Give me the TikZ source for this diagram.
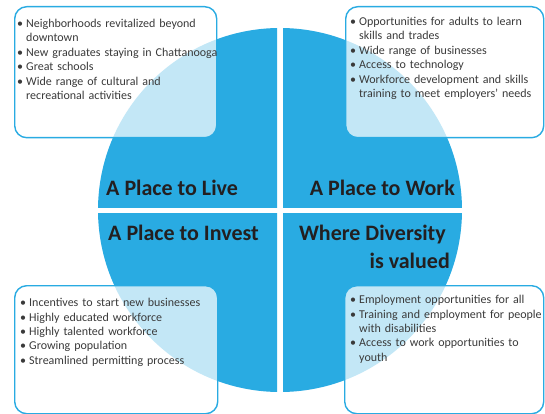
\documentclass[tikz,border=0pt]{standalone}
\usepackage{fontspec}
\setmainfont{Carlito}
\definecolor{cblue}{HTML}{29ABE2}
\definecolor{ctext}{HTML}{3A3A3A}
\definecolor{ctitle}{HTML}{231F20}
\tikzset{
  quad/.style={fill=cblue},
  box/.style={draw=cblue, line width=1.4pt, rounded corners=12pt, fill=white, fill opacity=0.72, anchor=north west, inner sep=0pt},
  list/.style={anchor=north west, text=ctext, font=\fontsize{12}{14.4}\selectfont, align=left, inner sep=0pt, text width=240pt},
  title/.style={text=ctitle, font=\fontsize{22}{26}\selectfont\bfseries, inner sep=0pt},
}
\newcommand{\bul}[1]{\par\noindent\hangindent=9pt\hangafter=1\makebox[9pt][l]{\textbullet}#1}
\begin{document}
\begin{tikzpicture}[x=1pt,y=-1pt]
\useasboundingbox (0,0) rectangle (545,414);
% quadrants
\begin{scope}\clip (0,0) rectangle (277,207); \fill[quad] (280,210) circle[radius=182pt]; \end{scope}
\begin{scope}\clip (283,0) rectangle (545,207); \fill[quad] (280,210) circle[radius=182pt]; \end{scope}
\begin{scope}\clip (0,213) rectangle (277,414); \fill[quad] (280,210) circle[radius=182pt]; \end{scope}
\begin{scope}\clip (283,213) rectangle (545,414); \fill[quad] (280,210) circle[radius=182pt]; \end{scope}
% boxes
\node[box, minimum width=202pt, minimum height=131pt] (b1) at (14,6) {};
\node[box, minimum width=198pt, minimum height=131pt] (b2) at (345,6) {};
\node[box, minimum width=203pt, minimum height=128pt] (b3) at (14,285) {};
\node[box, minimum width=199pt, minimum height=128pt] (b4) at (344,285) {};
% lists
\node[list] (l1) at (17,13) {\bul{Neighborhoods revitalized beyond\newline downtown}\bul{New graduates staying in Chattanooga}\bul{Great schools}\bul{Wide range of cultural and\newline recreational activities}\par};
\node[list] (l2) at (350,11) {\bul{Opportunities for adults to learn\newline skills and trades}\bul{Wide range of businesses}\bul{Access to technology}\bul{Workforce development and skills\newline training to meet employers’ needs}\par};
\node[list] (l3) at (20,292) {\bul{Incentives to start new businesses}\bul{Highly educated workforce}\bul{Highly talented workforce}\bul{Growing population}\bul{Streamlined permitting process}\par};
\node[list] (l4) at (350,289) {\bul{Employment opportunities for all}\bul{Training and employment for people\newline with disabilities}\bul{Access to work opportunities to\newline youth}\par};
% titles
\node[title, anchor=base west] (t1) at (106,195) {A Place to Live};
\node[title, anchor=base east] (t2) at (455,195) {A Place to Work};
\node[title, anchor=base west] (t3) at (108,240) {A Place to Invest};
\node[title, anchor=base east] (t4a) at (446,240) {Where Diversity};
\node[title, anchor=base east] (t4b) at (450,268) {is valued};
\end{tikzpicture}
\end{document}
